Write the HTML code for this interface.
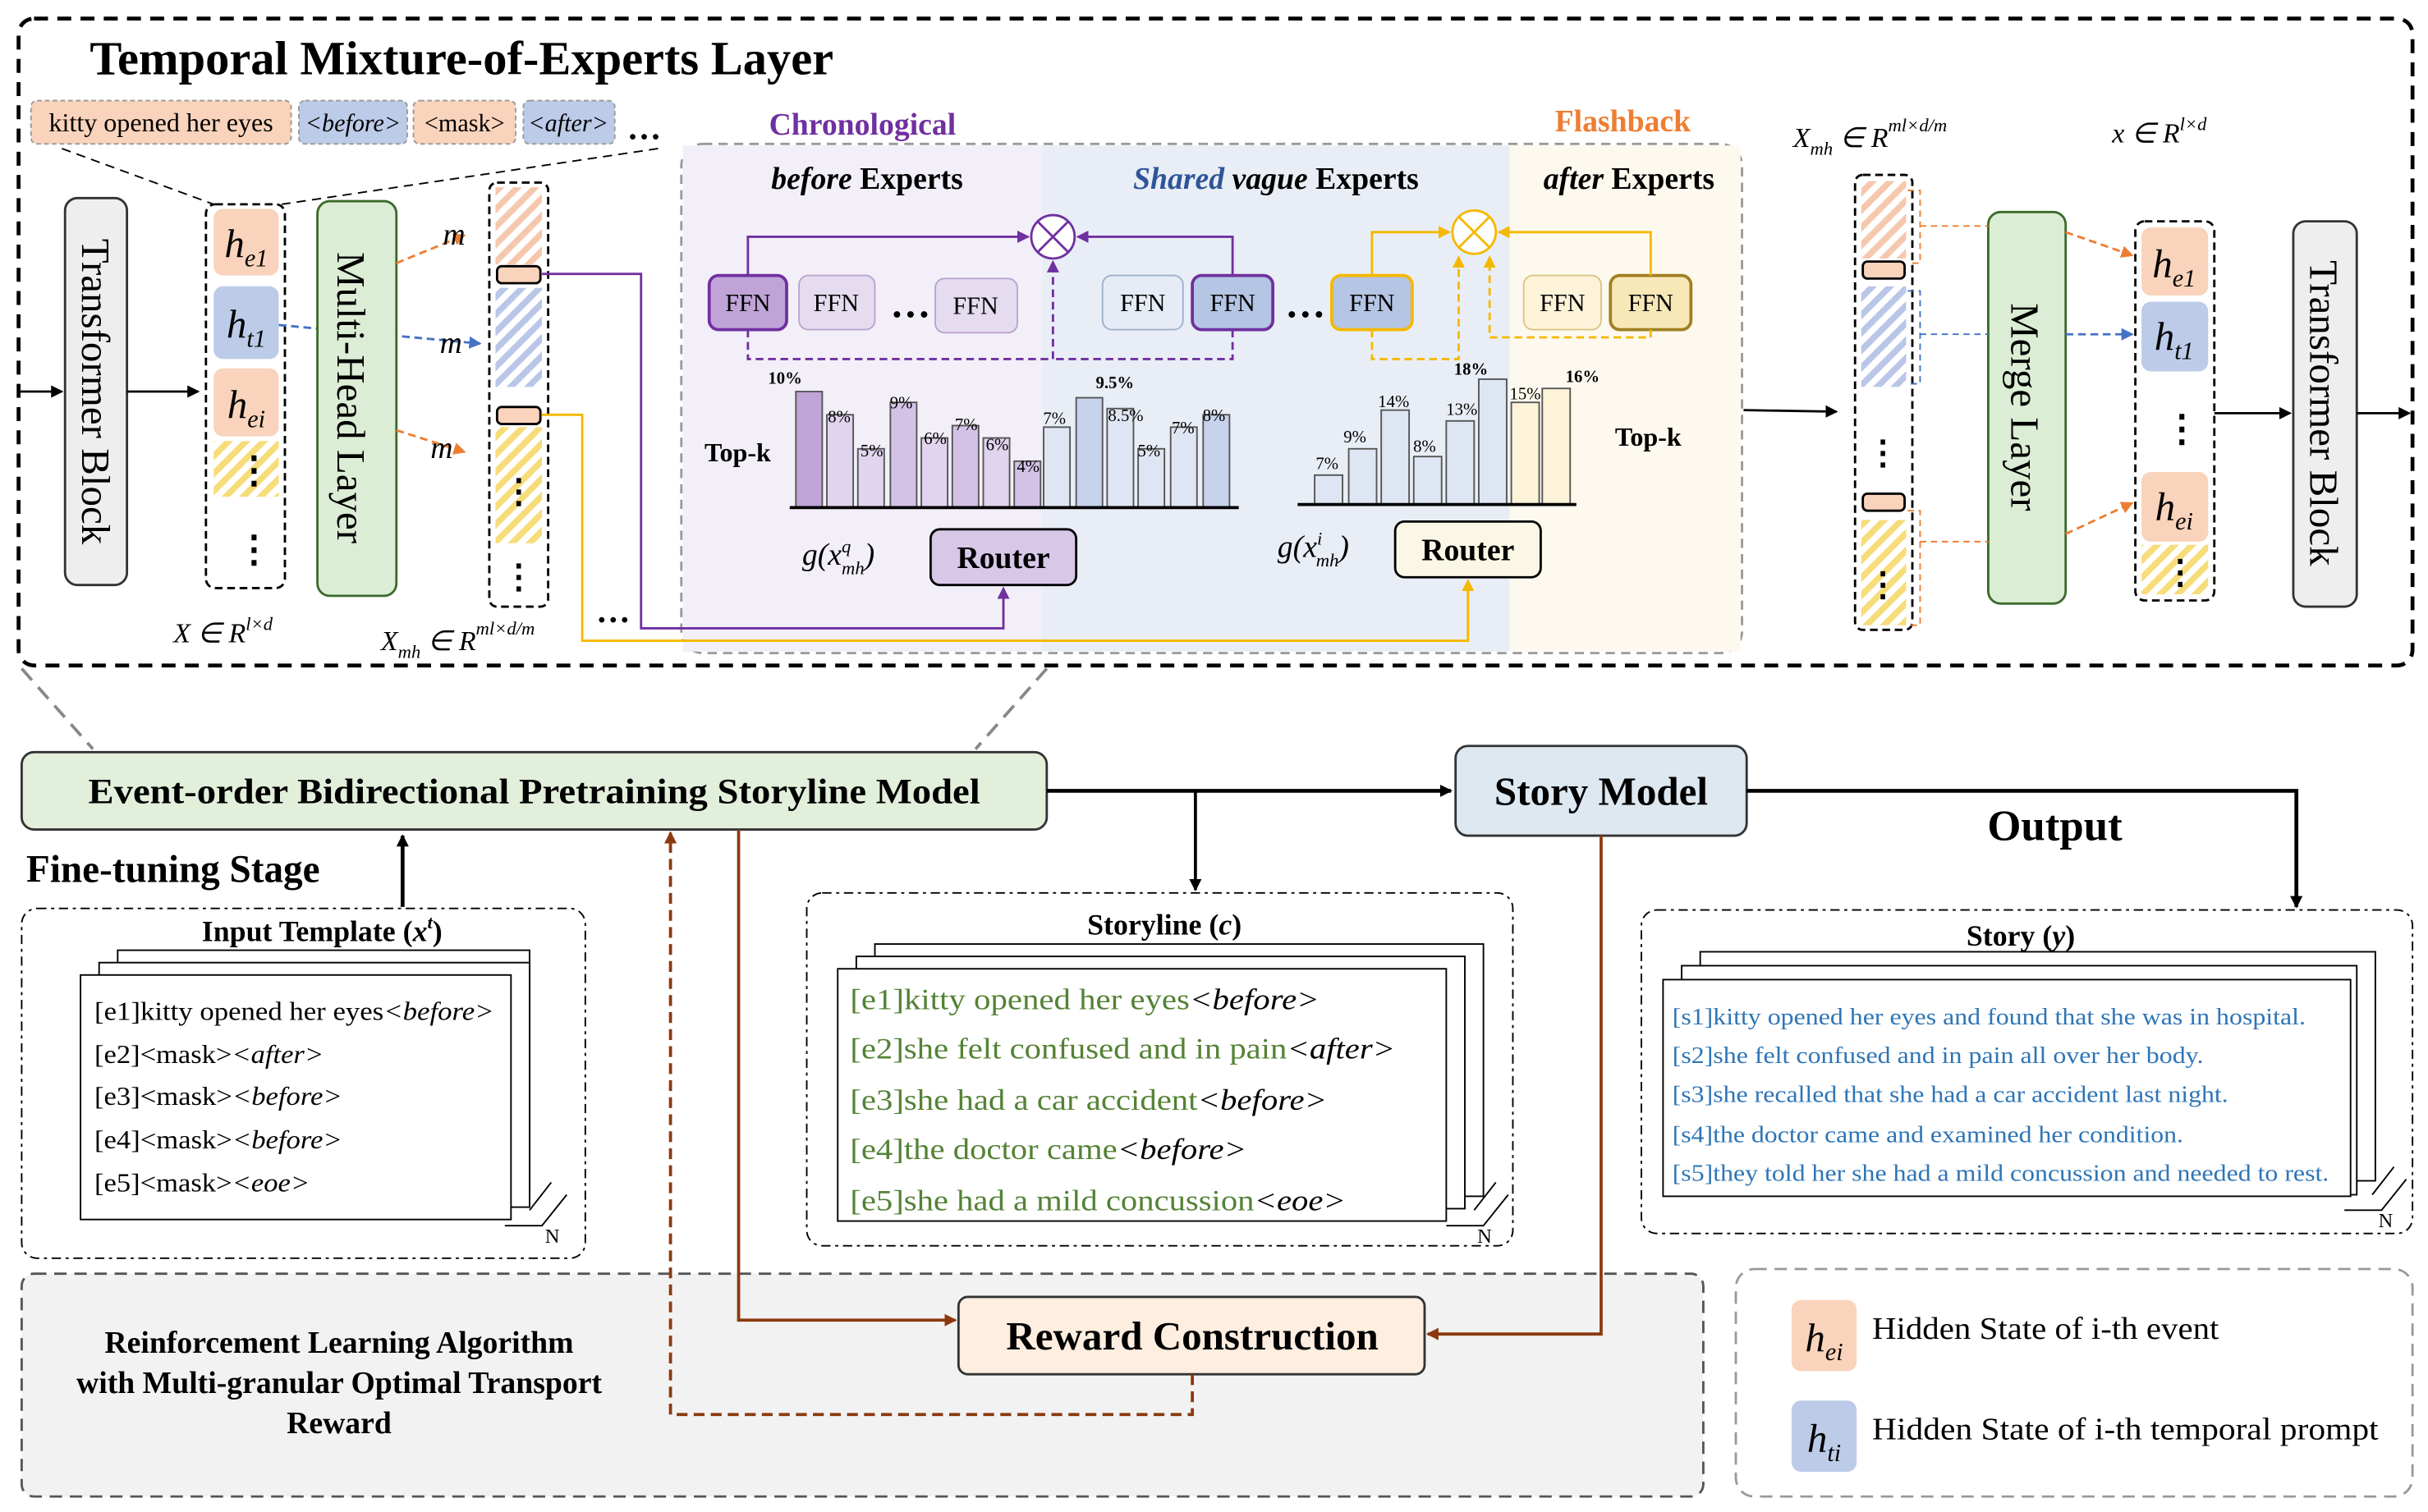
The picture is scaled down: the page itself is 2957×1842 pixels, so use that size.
<!DOCTYPE html>
<html><head><meta charset="utf-8"><style>
html,body{margin:0;padding:0;background:#fff}
svg{display:block}
text{font-family:"Liberation Serif",serif}
</style></head><body>
<svg width="2957" height="1842" viewBox="0 0 1568 977" preserveAspectRatio="none" xmlns="http://www.w3.org/2000/svg">
<defs>
<pattern id="hy" width="8" height="8" patternUnits="userSpaceOnUse" patternTransform="rotate(45)"><rect width="8" height="8" fill="#fff"/><rect width="4" height="8" fill="#f7dc7a"/></pattern>
<pattern id="hb" width="8" height="8" patternUnits="userSpaceOnUse" patternTransform="rotate(45)"><rect width="8" height="8" fill="#fff"/><rect width="4" height="8" fill="#b9c6e8"/></pattern>
<pattern id="ho" width="8" height="8" patternUnits="userSpaceOnUse" patternTransform="rotate(45)"><rect width="8" height="8" fill="#fff"/><rect width="4" height="8" fill="#f5c8ad"/></pattern>
<marker id="ak" markerWidth="8" markerHeight="8" refX="7" refY="4" orient="auto" markerUnits="userSpaceOnUse"><path d="M0,0 L8,4 L0,8z" fill="#000"/></marker>
<marker id="ao" markerWidth="8" markerHeight="8" refX="7" refY="4" orient="auto" markerUnits="userSpaceOnUse"><path d="M0,0 L8,4 L0,8z" fill="#ee7d31"/></marker>
<marker id="ab" markerWidth="8" markerHeight="8" refX="7" refY="4" orient="auto" markerUnits="userSpaceOnUse"><path d="M0,0 L8,4 L0,8z" fill="#4472c4"/></marker>
<marker id="ap" markerWidth="8" markerHeight="8" refX="7" refY="4" orient="auto" markerUnits="userSpaceOnUse"><path d="M0,0 L8,4 L0,8z" fill="#7030a0"/></marker>
<marker id="ay" markerWidth="8" markerHeight="8" refX="7" refY="4" orient="auto" markerUnits="userSpaceOnUse"><path d="M0,0 L8,4 L0,8z" fill="#f5b800"/></marker>
<marker id="ar" markerWidth="8" markerHeight="8" refX="7" refY="4" orient="auto" markerUnits="userSpaceOnUse"><path d="M0,0 L8,4 L0,8z" fill="#8b3a0f"/></marker>
</defs>

<rect x="12" y="12" width="1546" height="418" rx="10" fill="none" stroke="#000" stroke-width="2.5" stroke-dasharray="9,6"/>
<text x="58" y="48" font-size="31" font-weight="bold">Temporal Mixture-of-Experts Layer</text>
<rect x="20" y="65" width="168" height="28" rx="4" fill="#f9d3bb" stroke="#999" stroke-dasharray="3,2"/>
<text x="104" y="85" font-size="17" text-anchor="middle">kitty opened her eyes</text>
<rect x="193" y="65" width="70" height="28" rx="4" fill="#bccbe8" stroke="#999" stroke-dasharray="3,2"/>
<text x="228" y="85" font-size="16" font-style="italic" text-anchor="middle">&lt;before&gt;</text>
<rect x="267" y="65" width="66" height="28" rx="4" fill="#f9d3bb" stroke="#999" stroke-dasharray="3,2"/>
<text x="300" y="85" font-size="16" text-anchor="middle">&lt;mask&gt;</text>
<rect x="338" y="65" width="59" height="28" rx="4" fill="#bccbe8" stroke="#999" stroke-dasharray="3,2"/>
<text x="367" y="85" font-size="16" font-style="italic" text-anchor="middle">&lt;after&gt;</text>
<text x="405" y="90" font-size="22" font-weight="bold">…</text>
<line x1="40" y1="96" x2="138" y2="132" stroke="#000" stroke-dasharray="6,4"/>
<line x1="425" y1="96" x2="182" y2="132" stroke="#000" stroke-dasharray="6,4"/>

<line x1="12" y1="253" x2="40" y2="253" stroke="#000" stroke-width="1.5" marker-end="url(#ak)"/>
<rect x="42" y="128" width="40" height="250" rx="8" fill="#eeeeee" stroke="#333" stroke-width="1.5"/>
<text transform="translate(53,253) rotate(90)" font-size="26" text-anchor="middle">Transformer Block</text>
<line x1="82" y1="253" x2="128" y2="253" stroke="#000" stroke-width="1.5" marker-end="url(#ak)"/>
<rect x="133" y="132" width="51" height="248" rx="6" fill="#fff" stroke="#000" stroke-width="1.5" stroke-dasharray="5,3"/>
<rect x="138" y="135" width="42" height="43" rx="6" fill="#f9d3bb"/>
<text x="159" y="166" font-size="26" font-style="italic" text-anchor="middle">h<tspan font-size="16" dy="6">e1</tspan></text>
<rect x="138" y="185" width="42" height="47" rx="6" fill="#bccbe8"/>
<text x="159" y="218" font-size="26" font-style="italic" text-anchor="middle">h<tspan font-size="16" dy="6">t1</tspan></text>
<rect x="138" y="238" width="42" height="44" rx="6" fill="#f9d3bb"/>
<text x="159" y="270" font-size="26" font-style="italic" text-anchor="middle">h<tspan font-size="16" dy="6">ei</tspan></text>
<rect x="138" y="285" width="42" height="36" fill="url(#hy)"/>
<text x="152" y="312" font-size="24" font-weight="bold">⋮</text>
<text x="152" y="363" font-size="24" font-weight="bold">⋮</text>
<text x="112" y="415" font-size="18" font-style="italic">X ∈ R<tspan font-size="12" dy="-8">l×d</tspan></text>
<line x1="180" y1="210" x2="310" y2="222" stroke="#4472c4" stroke-width="1.5" stroke-dasharray="5,3" marker-end="url(#ab)"/>
<rect x="205" y="130" width="51" height="255" rx="8" fill="#dcedd5" stroke="#3a6b2a" stroke-width="1.5"/>
<text transform="translate(218,257) rotate(90)" font-size="26" text-anchor="middle">Multi-Head Layer</text>
<line x1="256" y1="170" x2="300" y2="152" stroke="#ee7d31" stroke-width="1.5" stroke-dasharray="5,3" marker-end="url(#ao)"/>
<text x="286" y="158" font-size="20" font-style="italic">m</text>
<text x="284" y="228" font-size="20" font-style="italic">m</text>
<line x1="256" y1="278" x2="300" y2="292" stroke="#ee7d31" stroke-width="1.5" stroke-dasharray="5,3" marker-end="url(#ao)"/>
<text x="278" y="296" font-size="20" font-style="italic">m</text>
<rect x="316" y="118" width="38" height="274" rx="5" fill="#fff" stroke="#000" stroke-width="1.5" stroke-dasharray="5,3"/>
<rect x="320" y="121" width="30" height="50" fill="url(#ho)"/>
<rect x="320" y="186" width="30" height="64" fill="url(#hb)"/>
<rect x="320" y="276" width="30" height="75" fill="url(#hy)"/>
<rect x="321" y="172" width="28" height="11" rx="3" fill="#f9d3bb" stroke="#000" stroke-width="1.5"/>
<rect x="321" y="263" width="28" height="11" rx="3" fill="#f9d3bb" stroke="#000" stroke-width="1.5"/>
<text x="324" y="325" font-size="22" font-weight="bold">⋮</text>
<text x="324" y="380" font-size="22" font-weight="bold">⋮</text>
<text x="385" y="402" font-size="22" font-weight="bold">…</text>
<text x="246" y="420" font-size="18" font-style="italic">X<tspan font-size="12" dy="5">mh</tspan><tspan dy="-5"> ∈ R</tspan><tspan font-size="12" dy="-10">ml×d/m</tspan></text>

<rect x="440" y="93" width="685" height="329" rx="14" fill="#fff" stroke="#999" stroke-width="1.5" stroke-dasharray="6,4"/>
<rect x="441" y="94" width="232" height="327" fill="#f3eff8"/>
<rect x="673" y="94" width="302" height="327" fill="#e9eef6"/>
<rect x="975" y="94" width="149" height="327" fill="#fdf9ee"/>
<text x="557" y="87" font-size="20" font-weight="bold" fill="#7030a0" text-anchor="middle">Chronological</text>
<text x="1048" y="85" font-size="20" font-weight="bold" fill="#ee7d31" text-anchor="middle">Flashback</text>
<text x="560" y="122" font-size="20" font-weight="bold" text-anchor="middle"><tspan font-style="italic">before</tspan> Experts</text>
<text x="824" y="122" font-size="20" font-weight="bold" text-anchor="middle"><tspan font-style="italic" fill="#2e5597">Shared</tspan> <tspan font-style="italic">vague</tspan> Experts</text>
<text x="1052" y="122" font-size="20" font-weight="bold" text-anchor="middle"><tspan font-style="italic">after</tspan> Experts</text>

<g font-size="16" text-anchor="middle">
<rect x="458" y="178" width="50" height="35" rx="6" fill="#c0a4d8" stroke="#7030a0" stroke-width="2"/><text x="483" y="201">FFN</text>
<rect x="516" y="178" width="49" height="35" rx="6" fill="#e5dcef" stroke="#b9a4cf"/><text x="540" y="201">FFN</text>
<text x="588" y="205" font-size="26" font-weight="bold">…</text>
<rect x="604" y="180" width="53" height="35" rx="6" fill="#e5dcef" stroke="#b9a4cf"/><text x="630" y="203">FFN</text>
<rect x="712" y="178" width="52" height="35" rx="6" fill="#e6ecf6" stroke="#9fb0cc"/><text x="738" y="201">FFN</text>
<rect x="770" y="178" width="52" height="35" rx="6" fill="#b5c5e4" stroke="#7030a0" stroke-width="2"/><text x="796" y="201">FFN</text>
<text x="843" y="205" font-size="26" font-weight="bold">…</text>
<rect x="860" y="178" width="52" height="35" rx="6" fill="#b5c5e4" stroke="#f5b800" stroke-width="2"/><text x="886" y="201">FFN</text>
<rect x="984" y="178" width="50" height="35" rx="6" fill="#fdf3d8" stroke="#d9c585"/><text x="1009" y="201">FFN</text>
<rect x="1040" y="178" width="52" height="35" rx="6" fill="#f8e8b8" stroke="#a08020" stroke-width="2"/><text x="1066" y="201">FFN</text>
</g>
<circle cx="680" cy="153" r="14" fill="#fff" stroke="#7030a0" stroke-width="1.5"/>
<path d="M670,143 L690,163 M690,143 L670,163" stroke="#7030a0" stroke-width="1.5"/>
<path d="M483,178 V153 H664" fill="none" stroke="#7030a0" stroke-width="1.5" marker-end="url(#ap)"/>
<path d="M796,178 V153 H696" fill="none" stroke="#7030a0" stroke-width="1.5" marker-end="url(#ap)"/>
<path d="M483,213 V232 H680 V169" fill="none" stroke="#7030a0" stroke-width="1.5" stroke-dasharray="5,3" marker-end="url(#ap)"/>
<path d="M796,213 V232 H680" fill="none" stroke="#7030a0" stroke-width="1.5" stroke-dasharray="5,3"/>
<circle cx="952" cy="150" r="14" fill="#fff" stroke="#f5b800" stroke-width="1.5"/>
<path d="M942,140 L962,160 M962,140 L942,160" stroke="#f5b800" stroke-width="1.5"/>
<path d="M886,178 V150 H936" fill="none" stroke="#f5b800" stroke-width="1.5" marker-end="url(#ay)"/>
<path d="M1066,178 V150 H968" fill="none" stroke="#f5b800" stroke-width="1.5" marker-end="url(#ay)"/>
<path d="M886,213 V232 H942 V166" fill="none" stroke="#f5b800" stroke-width="1.5" stroke-dasharray="5,3" marker-end="url(#ay)"/>
<path d="M1066,213 V218 H962 V166" fill="none" stroke="#f5b800" stroke-width="1.5" stroke-dasharray="5,3" marker-end="url(#ay)"/>

<g stroke="#555" stroke-width="1">
<rect x="514" y="253" width="17" height="75" fill="#c0a4d8"/>
<rect x="534" y="268" width="17" height="60" fill="#e0d4ee"/>
<rect x="554" y="290" width="17" height="38" fill="#e0d4ee"/>
<rect x="575" y="260" width="17" height="68" fill="#d4c2e6"/>
<rect x="595" y="283" width="17" height="45" fill="#e0d4ee"/>
<rect x="615" y="275" width="17" height="53" fill="#d4c2e6"/>
<rect x="635" y="283" width="17" height="45" fill="#e0d4ee"/>
<rect x="655" y="298" width="17" height="30" fill="#d4c2e6"/>
<rect x="674" y="276" width="17" height="52" fill="#dfe6f3"/>
<rect x="695" y="257" width="17" height="71" fill="#c7d3ec"/>
<rect x="715" y="264" width="17" height="64" fill="#dfe6f3"/>
<rect x="735" y="290" width="17" height="38" fill="#dfe6f3"/>
<rect x="756" y="276" width="17" height="52" fill="#dfe6f3"/>
<rect x="777" y="268" width="17" height="60" fill="#c7d3ec"/>
</g>
<line x1="510" y1="328" x2="800" y2="328" stroke="#000" stroke-width="2"/>
<g font-size="11" text-anchor="middle">
<text x="507" y="248" font-weight="bold">10%</text><text x="542" y="273">8%</text><text x="563" y="295">5%</text><text x="582" y="264">9%</text><text x="604" y="287">6%</text><text x="624" y="278">7%</text><text x="644" y="291">6%</text><text x="664" y="305">4%</text><text x="681" y="274">7%</text><text x="720" y="251" font-weight="bold">9.5%</text><text x="727" y="272">8.5%</text><text x="742" y="295">5%</text><text x="764" y="280">7%</text><text x="784" y="272">8%</text>
</g>
<text x="455" y="298" font-size="17" font-weight="bold">Top-k</text>
<text x="518" y="365" font-size="20" font-style="italic">g(x<tspan font-size="12" dy="-8">q</tspan><tspan font-size="12" dx="-6" dy="14">mh</tspan><tspan dy="-6">)</tspan></text>
<rect x="601" y="342" width="94" height="36" rx="6" fill="#d7c8e8" stroke="#000" stroke-width="1.5"/>
<text x="648" y="367" font-size="20" font-weight="bold" text-anchor="middle">Router</text>
<g stroke="#555" stroke-width="1">
<rect x="849" y="307" width="18" height="19" fill="#dfe6f3"/>
<rect x="871" y="290" width="18" height="36" fill="#dfe6f3"/>
<rect x="892" y="265" width="18" height="61" fill="#dfe6f3"/>
<rect x="913" y="295" width="18" height="31" fill="#dfe6f3"/>
<rect x="934" y="272" width="18" height="54" fill="#dfe6f3"/>
<rect x="955" y="245" width="18" height="81" fill="#dfe6f3"/>
<rect x="976" y="260" width="18" height="66" fill="#fdf3d8"/>
<rect x="996" y="251" width="18" height="75" fill="#fdf3d8"/>
</g>
<line x1="838" y1="326" x2="1018" y2="326" stroke="#000" stroke-width="2"/>
<g font-size="11" text-anchor="middle">
<text x="857" y="303">7%</text><text x="875" y="286">9%</text><text x="900" y="263">14%</text><text x="920" y="292">8%</text><text x="944" y="268">13%</text><text x="950" y="242" font-weight="bold">18%</text><text x="985" y="258">15%</text><text x="1022" y="247" font-weight="bold">16%</text>
</g>
<text x="1043" y="288" font-size="17" font-weight="bold">Top-k</text>
<text x="825" y="360" font-size="20" font-style="italic">g(x<tspan font-size="12" dy="-8">i</tspan><tspan font-size="12" dx="-4" dy="14">mh</tspan><tspan dy="-6">)</tspan></text>
<rect x="901" y="337" width="94" height="36" rx="6" fill="#fbf7e6" stroke="#000" stroke-width="1.5"/>
<text x="948" y="362" font-size="20" font-weight="bold" text-anchor="middle">Router</text>
<path d="M350,177 H414 V406 H648 V380" fill="none" stroke="#7030a0" stroke-width="1.5" marker-end="url(#ap)"/>
<path d="M350,268 H376 V414 H948 V375" fill="none" stroke="#f5b800" stroke-width="1.5" marker-end="url(#ay)"/>

<line x1="1126" y1="265" x2="1186" y2="266" stroke="#000" stroke-width="1.5" marker-end="url(#ak)"/>
<text x="1158" y="95" font-size="18" font-style="italic">X<tspan font-size="12" dy="5">mh</tspan><tspan dy="-5"> ∈ R</tspan><tspan font-size="12" dy="-10">ml×d/m</tspan></text>
<text x="1364" y="92" font-size="18" font-style="italic">x ∈ R<tspan font-size="12" dy="-8">l×d</tspan></text>
<rect x="1198" y="113" width="37" height="294" rx="5" fill="#fff" stroke="#000" stroke-width="1.5" stroke-dasharray="5,3"/>
<rect x="1202" y="117" width="29" height="50" fill="url(#ho)"/>
<rect x="1202" y="185" width="29" height="65" fill="url(#hb)"/>
<rect x="1202" y="336" width="29" height="68" fill="url(#hy)"/>
<rect x="1203" y="169" width="27" height="11" rx="3" fill="#f9d3bb" stroke="#000" stroke-width="1.5"/>
<rect x="1203" y="319" width="27" height="11" rx="3" fill="#f9d3bb" stroke="#000" stroke-width="1.5"/>
<text x="1205" y="300" font-size="22" font-weight="bold">⋮</text>
<text x="1205" y="385" font-size="22" font-weight="bold">⋮</text>
<rect x="1284" y="137" width="50" height="253" rx="8" fill="#dcedd5" stroke="#3a6b2a" stroke-width="1.5"/>
<text transform="translate(1299,263) rotate(90)" font-size="26" text-anchor="middle">Merge Layer</text>
<path d="M1232,123 H1240 V170 H1232" fill="none" stroke="#ee7d31" stroke-dasharray="4,3"/>
<path d="M1240,146 H1284" stroke="#ee7d31" stroke-dasharray="4,3"/>
<path d="M1232,188 H1240 V248 H1232" fill="none" stroke="#4472c4" stroke-dasharray="4,3"/>
<path d="M1240,216 H1284" stroke="#4472c4" stroke-dasharray="4,3"/>
<path d="M1232,330 H1240 V404 H1232" fill="none" stroke="#ee7d31" stroke-dasharray="4,3"/>
<path d="M1240,350 H1284" stroke="#ee7d31" stroke-dasharray="4,3"/>
<line x1="1334" y1="150" x2="1377" y2="165" stroke="#ee7d31" stroke-width="1.5" stroke-dasharray="5,3" marker-end="url(#ao)"/>
<line x1="1334" y1="216" x2="1377" y2="216" stroke="#4472c4" stroke-width="1.5" stroke-dasharray="5,3" marker-end="url(#ab)"/>
<line x1="1334" y1="345" x2="1377" y2="325" stroke="#ee7d31" stroke-width="1.5" stroke-dasharray="5,3" marker-end="url(#ao)"/>
<rect x="1379" y="143" width="51" height="245" rx="6" fill="#fff" stroke="#000" stroke-width="1.5" stroke-dasharray="5,3"/>
<rect x="1383" y="147" width="43" height="44" rx="6" fill="#f9d3bb"/>
<text x="1404" y="179" font-size="26" font-style="italic" text-anchor="middle">h<tspan font-size="16" dy="6">e1</tspan></text>
<rect x="1383" y="195" width="43" height="45" rx="6" fill="#bccbe8"/>
<text x="1404" y="226" font-size="26" font-style="italic" text-anchor="middle">h<tspan font-size="16" dy="6">t1</tspan></text>
<text x="1397" y="285" font-size="24" font-weight="bold">⋮</text>
<rect x="1383" y="305" width="43" height="45" rx="6" fill="#f9d3bb"/>
<text x="1404" y="336" font-size="26" font-style="italic" text-anchor="middle">h<tspan font-size="16" dy="6">ei</tspan></text>
<rect x="1383" y="352" width="43" height="32" fill="url(#hy)"/>
<text x="1397" y="377" font-size="22" font-weight="bold">⋮</text>
<line x1="1430" y1="267" x2="1479" y2="267" stroke="#000" stroke-width="1.5" marker-end="url(#ak)"/>
<rect x="1481" y="143" width="41" height="249" rx="8" fill="#eeeeee" stroke="#333" stroke-width="1.5"/>
<text transform="translate(1492,267) rotate(90)" font-size="26" text-anchor="middle">Transformer Block</text>
<line x1="1522" y1="267" x2="1556" y2="267" stroke="#000" stroke-width="1.5" marker-end="url(#ak)"/>

<line x1="14" y1="432" x2="60" y2="484" stroke="#888" stroke-width="2" stroke-dasharray="10,6"/>
<line x1="676" y1="432" x2="630" y2="484" stroke="#888" stroke-width="2" stroke-dasharray="10,6"/>

<rect x="14" y="823" width="1086" height="144" rx="8" fill="#f2f2f2" stroke="#555" stroke-width="1.5" stroke-dasharray="8,5"/>
<rect x="14" y="486" width="662" height="50" rx="8" fill="#e2efdb" stroke="#333" stroke-width="1.5"/>
<text x="57" y="519" font-size="23" font-weight="bold" textLength="576" lengthAdjust="spacingAndGlyphs">Event-order Bidirectional Pretraining Storyline Model</text>
<rect x="940" y="482" width="188" height="58" rx="8" fill="#dde8f1" stroke="#333" stroke-width="1.5"/>
<text x="1034" y="520" font-size="26" font-weight="bold" text-anchor="middle">Story Model</text>
<text x="1327" y="543" font-size="28" font-weight="bold" text-anchor="middle">Output</text>
<text x="17" y="570" font-size="25" font-weight="bold">Fine-tuning Stage</text>
<line x1="676" y1="511" x2="937" y2="511" stroke="#000" stroke-width="2.5" marker-end="url(#ak)"/>
<path d="M772,511 V575" fill="none" stroke="#000" stroke-width="2" marker-end="url(#ak)"/>
<path d="M1128,511 H1483 V586" fill="none" stroke="#000" stroke-width="2.5" marker-end="url(#ak)"/>
<line x1="260" y1="586" x2="260" y2="540" stroke="#000" stroke-width="2.5" marker-end="url(#ak)"/>

<rect x="14" y="587" width="364" height="226" rx="10" fill="#fff" stroke="#000" stroke-dasharray="6,3,2,3"/>
<text x="208" y="608" font-size="19" font-weight="bold" text-anchor="middle">Input Template (<tspan font-style="italic">x</tspan><tspan font-size="12" dy="-8" font-style="italic">t</tspan><tspan dy="8">)</tspan></text>
<rect x="76" y="614" width="266" height="158" fill="#fff" stroke="#000"/>
<rect x="64" y="622" width="278" height="158" fill="#fff" stroke="#000"/>
<rect x="52" y="630" width="278" height="158" fill="#fff" stroke="#000"/>
<path d="M326,792 L350,792 L366,772 M342,782 L356,764" fill="none" stroke="#000"/>
<text x="352" y="803" font-size="13">N</text>
<g font-size="17">
<text x="61" y="659" textLength="258" lengthAdjust="spacingAndGlyphs">[e1]kitty opened her eyes<tspan font-style="italic">&lt;before&gt;</tspan></text>
<text x="61" y="687" textLength="148" lengthAdjust="spacingAndGlyphs">[e2]&lt;mask&gt;<tspan font-style="italic">&lt;after&gt;</tspan></text>
<text x="61" y="714" textLength="160" lengthAdjust="spacingAndGlyphs">[e3]&lt;mask&gt;<tspan font-style="italic">&lt;before&gt;</tspan></text>
<text x="61" y="742" textLength="160" lengthAdjust="spacingAndGlyphs">[e4]&lt;mask&gt;<tspan font-style="italic">&lt;before&gt;</tspan></text>
<text x="61" y="770" textLength="139" lengthAdjust="spacingAndGlyphs">[e5]&lt;mask&gt;<tspan font-style="italic">&lt;eoe&gt;</tspan></text>
</g>

<rect x="521" y="577" width="456" height="228" rx="10" fill="#fff" stroke="#000" stroke-dasharray="6,3,2,3"/>
<text x="752" y="604" font-size="19" font-weight="bold" text-anchor="middle">Storyline (<tspan font-style="italic">c</tspan>)</text>
<rect x="565" y="610" width="393" height="163" fill="#fff" stroke="#000"/>
<rect x="553" y="618" width="393" height="163" fill="#fff" stroke="#000"/>
<rect x="541" y="626" width="393" height="163" fill="#fff" stroke="#000"/>
<path d="M934,792 L958,792 L974,772 M952,782 L966,764" fill="none" stroke="#000"/>
<text x="954" y="803" font-size="13">N</text>
<g font-size="19" fill="#548235">
<text x="549" y="652" textLength="303" lengthAdjust="spacingAndGlyphs">[e1]kitty opened her eyes<tspan fill="#000" font-style="italic">&lt;before&gt;</tspan></text>
<text x="549" y="684" textLength="352" lengthAdjust="spacingAndGlyphs">[e2]she felt confused and in pain<tspan fill="#000" font-style="italic">&lt;after&gt;</tspan></text>
<text x="549" y="717" textLength="308" lengthAdjust="spacingAndGlyphs">[e3]she had a car accident<tspan fill="#000" font-style="italic">&lt;before&gt;</tspan></text>
<text x="549" y="749" textLength="256" lengthAdjust="spacingAndGlyphs">[e4]the doctor came<tspan fill="#000" font-style="italic">&lt;before&gt;</tspan></text>
<text x="549" y="782" textLength="320" lengthAdjust="spacingAndGlyphs">[e5]she had a mild concussion<tspan fill="#000" font-style="italic">&lt;eoe&gt;</tspan></text>
</g>

<rect x="1060" y="588" width="498" height="209" rx="10" fill="#fff" stroke="#000" stroke-dasharray="6,3,2,3"/>
<text x="1305" y="611" font-size="19" font-weight="bold" text-anchor="middle">Story (<tspan font-style="italic">y</tspan>)</text>
<rect x="1098" y="615" width="436" height="148" fill="#fff" stroke="#000"/>
<rect x="1086" y="624" width="436" height="148" fill="#fff" stroke="#000"/>
<rect x="1074" y="633" width="444" height="140" fill="#fff" stroke="#000"/>
<path d="M1514,782 L1538,782 L1554,762 M1532,772 L1546,754" fill="none" stroke="#000"/>
<text x="1536" y="793" font-size="13">N</text>
<g font-size="15" fill="#2e75b6">
<text x="1080" y="662" textLength="409" lengthAdjust="spacingAndGlyphs">[s1]kitty opened her eyes and found that she was in hospital.</text>
<text x="1080" y="687" textLength="343" lengthAdjust="spacingAndGlyphs">[s2]she felt confused and in pain all over her body.</text>
<text x="1080" y="712" textLength="359" lengthAdjust="spacingAndGlyphs">[s3]she recalled that she had a car accident last night.</text>
<text x="1080" y="738" textLength="330" lengthAdjust="spacingAndGlyphs">[s4]the doctor came and examined her condition.</text>
<text x="1080" y="763" textLength="424" lengthAdjust="spacingAndGlyphs">[s5]they told her she had a mild concussion and needed to rest.</text>
</g>

<g font-size="20" font-weight="bold" text-anchor="middle">
<text x="219" y="874">Reinforcement Learning Algorithm</text>
<text x="219" y="900">with  Multi-granular Optimal Transport</text>
<text x="219" y="926">Reward</text>
</g>
<rect x="619" y="838" width="301" height="50" rx="6" fill="#fdeee0" stroke="#333" stroke-width="1.5"/>
<text x="770" y="872" font-size="26" font-weight="bold" text-anchor="middle">Reward Construction</text>
<path d="M477,536 V853 H617" fill="none" stroke="#8b3a0f" stroke-width="2" marker-end="url(#ar)"/>
<path d="M1034,540 V862 H922" fill="none" stroke="#8b3a0f" stroke-width="2" marker-end="url(#ar)"/>
<path d="M770,888 V914 H433 V538" fill="none" stroke="#8b3a0f" stroke-width="2" stroke-dasharray="7,4" marker-end="url(#ar)"/>

<rect x="1121" y="820" width="437" height="147" rx="12" fill="#fff" stroke="#999" stroke-width="1.5" stroke-dasharray="8,5"/>
<rect x="1157" y="840" width="42" height="46" rx="6" fill="#f9d3bb"/>
<text x="1178" y="873" font-size="26" font-style="italic" text-anchor="middle">h<tspan font-size="16" dy="6">ei</tspan></text>
<text x="1209" y="865" font-size="20" textLength="224" lengthAdjust="spacingAndGlyphs">Hidden State of i-th event</text>
<rect x="1157" y="905" width="42" height="46" rx="6" fill="#bccbe8"/>
<text x="1178" y="938" font-size="26" font-style="italic" text-anchor="middle">h<tspan font-size="16" dy="6">ti</tspan></text>
<text x="1209" y="930" font-size="20" textLength="327" lengthAdjust="spacingAndGlyphs">Hidden State of  i-th temporal prompt</text>
</svg>
</body></html>
